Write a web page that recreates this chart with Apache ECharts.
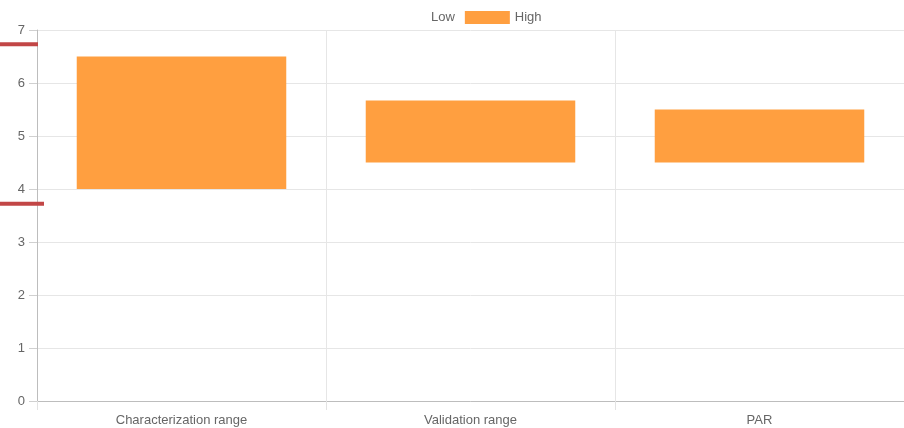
<!DOCTYPE html>
<html>
<head>
<meta charset="utf-8">
<script src="https://cdn.jsdelivr.net/npm/echarts@6/dist/echarts.min.js"></script>
<style>html,body{margin:0;padding:0;background:#fff;}#c{width:904px;height:428px;}</style>
</head>
<body>
<div id="c"></div>
<script>
var categories = ['Characterization range', 'Validation range', 'PAR'];
var lowValues = [4.0, 4.5, 4.5];
var highValues = [6.5, 5.67, 5.5];
var yTicks = [0, 1, 2, 3, 4, 5, 6, 7];
var redMarkValues = [6.73, 3.72];

var spanValues = highValues.map(function (h, i) { return +(h - lowValues[i]).toFixed(2); });
var redLens = [38, 44];

var font = 'Liberation Sans, Arial, sans-serif';
var chart = echarts.init(document.getElementById('c'));
chart.setOption({
  animation: false,
  textStyle: { fontFamily: font },
  legend: {
    top: 6, left: 376, icon: 'rect',
    itemWidth: 45, itemHeight: 13, itemGap: 10,
    textStyle: { color: '#666', fontSize: 13, fontFamily: font },
    data: [
      { name: 'Low', itemStyle: { color: 'rgba(0,0,0,0)', borderWidth: 0 } },
      { name: 'High', itemStyle: { color: '#FF9F40' } }
    ]
  },
  grid: [
    { left: 37, right: 0, top: 30, bottom: 27 },
    { left: 0, width: 44, top: 30, bottom: 27 }
  ],
  xAxis: [
    {
      type: 'category', data: categories, gridIndex: 0,
      axisLine: { lineStyle: { color: '#bdbdbd' } },
      axisTick: { show: true, length: 9, lineStyle: { color: '#e3e3e3' } },
      axisLabel: { color: '#666', fontSize: 13, margin: 13, fontFamily: font },
      splitLine: { show: true, lineStyle: { color: '#e6e6e6' } }
    },
    { type: 'value', gridIndex: 1, min: 0, max: 44, show: false }
  ],
  yAxis: [
    {
      type: 'value', gridIndex: 0, min: 0, max: 7, interval: 1,
      axisLine: { show: true, lineStyle: { color: '#bdbdbd' } },
      axisTick: { show: true, length: 8, lineStyle: { color: '#d0d0d0' } },
      axisLabel: { color: '#666', fontSize: 13, margin: 12, fontFamily: font,
        formatter: function (v) { return yTicks.indexOf(v) >= 0 ? String(v) : ''; } },
      splitLine: { show: true, lineStyle: { color: '#e6e6e6' } }
    },
    { type: 'value', gridIndex: 1, min: 0, max: 7, show: false }
  ],
  series: [
    {
      name: 'Low', type: 'bar', stack: 'r', data: lowValues, barWidth: '72.5%',
      itemStyle: { color: 'rgba(0,0,0,0)' }, silent: true
    },
    {
      name: 'High', type: 'bar', stack: 'r', data: spanValues, barWidth: '72.5%',
      itemStyle: { color: '#FF9F40' }
    }
  ].concat(redMarkValues.map(function (v, i) {
    return {
      type: 'line', xAxisIndex: 1, yAxisIndex: 1, symbol: 'none', z: 10,
      data: [[0, v], [redLens[i], v]],
      lineStyle: { color: '#c24646', width: 4 }
    };
  }))
});
</script>
</body>
</html>
